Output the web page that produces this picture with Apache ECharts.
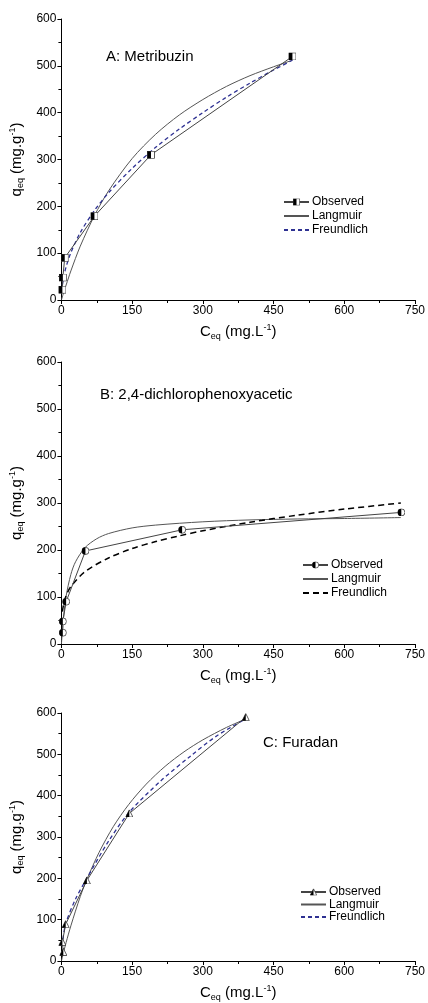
<!DOCTYPE html>
<html>
<head>
<meta charset="utf-8">
<script src="https://cdn.jsdelivr.net/npm/echarts@6/dist/echarts.min.js"></script>
<style>
  html, body { margin: 0; padding: 0; background: #fff; }
  #main { width: 428px; height: 1003px; }
</style>
</head>
<body>
<div id="main"></div>
<script>
// observed points [C_eq, q_eq]
var obsA = [[2, 22], [3, 48], [7, 90], [70, 179], [190, 310], [490, 520]];
var obsB = [[3, 24], [3, 48], [10, 90], [51, 198], [256, 243], [721, 280]];
var obsC = [[4, 22], [2, 46], [9, 89], [54, 195], [144, 357], [391, 590]];

// model curves
var langA = [[0, 0], [5, 17], [10, 32], [20, 62], [40, 115], [70, 180], [100, 233], [150, 302], [200, 354], [250, 395], [300, 428], [350, 456], [400, 479], [450, 498], [490, 512]];
var freuA = [[2, 32], [5, 50], [10, 71], [20, 101], [40, 144], [70, 191], [100, 229], [150, 281], [200, 326], [250, 365], [300, 400], [350, 433], [400, 463], [450, 491], [490, 512]];

var langB = [[0, 0], [3, 41], [5, 62], [10, 102], [20, 148], [30, 175], [50, 205], [75, 224], [100, 235], [150, 247], [200, 253], [300, 260], [400, 264], [500, 266], [600, 267], [720, 269]];
var freuB = [[2, 69], [5, 86], [10, 103], [20, 122], [50, 154], [100, 183], [150, 203], [200, 218], [250, 230], [300, 241], [400, 259], [500, 274], [600, 287], [720, 300]];

var langC = [[0, 0], [5, 23], [10, 45], [20, 85], [40, 156], [55, 200], [80, 263], [110, 325], [143, 379], [180, 428], [220, 471], [260, 506], [300, 535], [350, 565], [390, 585]];
var freuC = [[1, 36], [2, 44], [9, 90], [30, 150], [54, 200], [100, 290], [144, 360], [210, 435], [273, 495], [330, 545], [390, 585]];

var xTicks = [0, 150, 300, 450, 600, 750];
var yTicks = [0, 100, 200, 300, 400, 500, 600];
var panelTitles = ['A: Metribuzin', 'B: 2,4-dichlorophenoxyacetic', 'C: Furadan'];

var font = 'Liberation Sans, Arial, sans-serif';

function svgIcon(body) {
	var s = "<svg xmlns='http://www.w3.org/2000/svg' width='20' height='20'>" + body + "</svg>";
	return 'image://data:image/svg+xml;charset=utf-8,' + encodeURIComponent(s);
}
var halfSquare = svgIcon("<rect x='1' y='1' width='18' height='18' fill='#fff' stroke='#333' stroke-width='2'/><rect x='1' y='1' width='9' height='18' fill='#000'/>");
var halfCircle = svgIcon("<circle cx='10' cy='10' r='9' fill='#fff' stroke='#333' stroke-width='2'/><path d='M10 1 A9 9 0 0 0 10 19 Z' fill='#000'/>");
var halfTriangle = svgIcon("<polygon points='10,1 19,19 1,19' fill='#fff' stroke='#333' stroke-width='2'/><polygon points='10,1 10,19 1,19' fill='#000'/>");

var grids = [
	{left: 60, top: 19, width: 357, height: 281},
	{left: 60, top: 362, width: 357, height: 282},
	{left: 60, top: 713, width: 357, height: 251}
];

var axisBase = {
	axisLine: {show: true, lineStyle: {color: '#000', width: 1}},
	axisTick: {show: true, inside: false, length: 4, lineStyle: {color: '#000'}},
	minorTick: {show: true, splitNumber: 2, length: 3, lineStyle: {color: '#000'}},
	splitLine: {show: false},
	axisLabel: {color: '#000', fontSize: 12, fontFamily: font, margin: 5}
};

var nameRich = {
	m: {fontSize: 15, fontFamily: font, color: '#000'},
	s: {fontSize: 9, fontFamily: font, color: '#000', padding: [9, 0, 0, 0]},
	p: {fontSize: 9, fontFamily: font, color: '#000', padding: [0, 0, 8, 0]}
};

var xAxes = [], yAxes = [];
for (var i = 0; i < 3; i++) {
	xAxes.push(Object.assign({}, axisBase, {
		type: 'value', gridIndex: i, min: xTicks[0], max: xTicks[xTicks.length - 1], interval: 150,
		name: '{m|C}{s|eq}{m| (mg.L}{p|-1}{m|)}',
		nameLocation: 'middle', nameGap: 23,
		nameTextStyle: {rich: nameRich}
	}));
	yAxes.push(Object.assign({}, axisBase, {
		type: 'value', gridIndex: i, min: yTicks[0], max: yTicks[yTicks.length - 1], interval: 100,
		name: '{m|q}{s|eq}{m| (mg.g}{p|-1}{m|)}',
		nameLocation: 'middle', nameGap: 28, nameRotate: 90,
		nameTextStyle: {rich: nameRich}
	}));
}

var panels = [
	{key: 'A', obs: obsA, lang: langA, freu: freuA, icon: halfSquare, fColor: '#2e3192', fDash: [4, 3], fWidth: 1.3},
	{key: 'B', obs: obsB, lang: langB, freu: freuB, icon: halfCircle, fColor: '#000', fDash: [6, 4], fWidth: 1.5},
	{key: 'C', obs: obsC, lang: langC, freu: freuC, icon: halfTriangle, fColor: '#2e3192', fDash: [4, 3], fWidth: 1.3}
];

var series = [];
var legends = [];
var legendPos = [
	{left: 283, top: 196, gap: 2},
	{left: 302, top: 559, gap: 2},
	{left: 300, top: 886, gap: 0.5}
];

var noSymbol = {opacity: 0, borderWidth: 0};

panels.forEach(function (p, i) {
	series.push({
		name: p.key + '|Langmuir', type: 'line', xAxisIndex: i, yAxisIndex: i,
		data: p.lang, symbol: 'none', smooth: 0.3,
		itemStyle: {color: '#555'},
		lineStyle: {color: '#555', width: 1}, z: 2
	});
	series.push({
		name: p.key + '|Freundlich', type: 'line', xAxisIndex: i, yAxisIndex: i,
		data: p.freu, symbol: 'none', smooth: 0.3,
		itemStyle: {color: p.fColor},
		lineStyle: {color: p.fColor, width: p.fWidth, type: p.fDash}, z: 3
	});
	series.push({
		name: p.key + '|Observed', type: 'line', xAxisIndex: i, yAxisIndex: i,
		data: p.obs, symbol: p.icon, symbolSize: 8,
		itemStyle: {color: '#444'},
		lineStyle: {color: '#444', width: 1}, z: 4
	});
	legends.push({
		orient: 'vertical', left: legendPos[i].left, top: legendPos[i].top,
		itemWidth: 25, itemHeight: 9, itemGap: legendPos[i].gap, padding: 0,
		data: [
			{name: p.key + '|Observed'},
			{name: p.key + '|Langmuir', itemStyle: noSymbol},
			{name: p.key + '|Freundlich', itemStyle: noSymbol}
		],
		formatter: function (n) { return n.split('|')[1]; },
		textStyle: {fontSize: 12, fontFamily: font, color: '#000', padding: [0, 0, 0, -2]},
		selectedMode: false
	});
});

var titles = [
	{text: panelTitles[0], left: 106, top: 49},
	{text: panelTitles[1], left: 100, top: 387},
	{text: panelTitles[2], left: 263, top: 735}
].map(function (t) {
	t.padding = 0;
	t.textStyle = {fontSize: 15, fontWeight: 'normal', fontFamily: font, color: '#000'};
	return t;
});

var chart = echarts.init(document.getElementById('main'), null, {renderer: 'canvas'});
chart.setOption({
	backgroundColor: '#fff',
	animation: false,
	title: titles,
	legend: legends,
	grid: grids,
	xAxis: xAxes,
	yAxis: yAxes,
	series: series
});
</script>
</body>
</html>
